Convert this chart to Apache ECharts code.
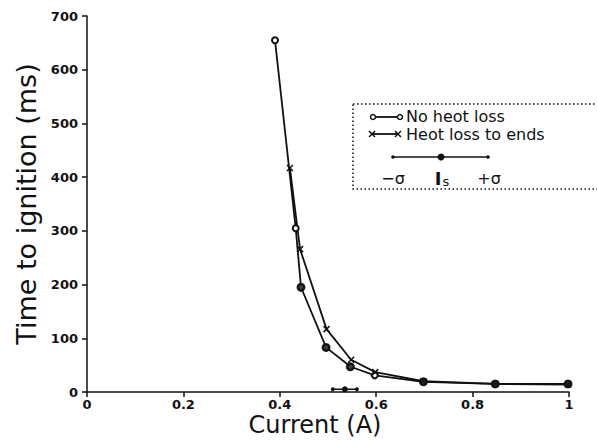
<!DOCTYPE html>
<html>
<head>
<meta charset="utf-8">
<script src="https://cdn.jsdelivr.net/npm/echarts@6/dist/echarts.min.js"></script>
<style>
  html, body { margin: 0; padding: 0; background: #fff; }
  #chart { width: 597px; height: 441px; }
</style>
</head>
<body>
<div id="chart"></div>
<script>
// --- data ---
var noLossX = [0.39, 0.433, 0.444, 0.496, 0.547, 0.597, 0.698, 0.847, 0.998];
var noLossY = [655, 305, 195, 83, 47, 31, 19, 15, 15];

var endLossX = [0.421, 0.442, 0.497, 0.548, 0.598, 0.698, 0.847, 0.998];
var endLossY = [417, 266, 117, 60, 37, 20, 15, 14];

// measured ignition currents (filled dots)
var isX = [0.444, 0.496, 0.546, 0.698, 0.847, 0.998];
var isY = [195, 83, 47, 19, 15, 15];

// -sigma / Is / +sigma bar near the axis
var sigmaX = [0.51, 0.535, 0.56];
var sigmaY = [5, 5, 5];

function pairs(xs, ys) {
  return xs.map(function(x, i) { return [x, ys[i]]; });
}

var ink = '#111';
var font = 'DejaVu Sans';
var crossPath = 'path://M0,0L10,10M10,0L0,10';

function cross(cx, cy) {
  return [
    { type: 'line', shape: { x1: cx - 3, y1: cy - 3, x2: cx + 3, y2: cy + 3 }, style: { stroke: ink, lineWidth: 1.5 }, z: 12 },
    { type: 'line', shape: { x1: cx + 3, y1: cy - 3, x2: cx - 3, y2: cy + 3 }, style: { stroke: ink, lineWidth: 1.5 }, z: 12 }
  ];
}

function label(x, y, text, align) {
  return {
    type: 'text', x: x, y: y,
    style: { text: text, fill: ink, fontSize: 16, lineHeight: 14, fontFamily: font, align: align || 'left', verticalAlign: 'middle' },
    z: 12
  };
}

var legendGraphics = [
  {
    type: 'rect',
    shape: { x: 353, y: 104, width: 250, height: 85 },
    style: { fill: '#fff', stroke: ink, lineWidth: 1.5, lineDash: [1.5, 2.5] },
    z: 10
  },
  // row 1: no heat loss
  { type: 'line', shape: { x1: 373, y1: 117, x2: 400, y2: 117 }, style: { stroke: ink, lineWidth: 1.8 }, z: 11 },
  { type: 'circle', shape: { cx: 373, cy: 117, r: 2.5 }, style: { fill: '#fff', stroke: ink, lineWidth: 1.5 }, z: 12 },
  { type: 'circle', shape: { cx: 400, cy: 117, r: 2.5 }, style: { fill: '#fff', stroke: ink, lineWidth: 1.5 }, z: 12 },
  label(406, 116, 'No heot loss'),
  // row 2: heat loss to ends
  { type: 'line', shape: { x1: 372, y1: 134, x2: 398, y2: 134 }, style: { stroke: ink, lineWidth: 1.8 }, z: 11 },
  label(406, 134, 'Heot loss to ends'),
  // row 3: sigma bar
  { type: 'line', shape: { x1: 393, y1: 157, x2: 488, y2: 157 }, style: { stroke: ink, lineWidth: 1.5 }, z: 11 },
  { type: 'circle', shape: { cx: 393, cy: 157, r: 1.8 }, style: { fill: ink }, z: 12 },
  { type: 'circle', shape: { cx: 488, cy: 157, r: 1.8 }, style: { fill: ink }, z: 12 },
  { type: 'circle', shape: { cx: 441, cy: 157, r: 3.5 }, style: { fill: ink }, z: 12 },
  // row 4: labels
  label(393, 178, '−σ', 'center'),
  {
    type: 'text', x: 442, y: 178,
    style: {
      text: '{a|I}{b|s}', fill: ink, align: 'center', verticalAlign: 'middle',
      rich: {
        a: { fontSize: 18, fontFamily: font, fontWeight: 'bold', fill: ink },
        b: { fontSize: 13, fontFamily: font, fill: ink, padding: [6, 0, 0, 1] }
      }
    },
    z: 12
  },
  label(489, 178, '+σ', 'center')
].concat(cross(372, 134), cross(398, 134));

var chart = echarts.init(document.getElementById('chart'), null, { renderer: 'svg' });
chart.setOption({
  animation: false,
  backgroundColor: '#fff',
  grid: { left: 87, right: 28, top: 16, bottom: 49, containLabel: false, outerBoundsMode: 'none' },
  xAxis: {
    type: 'value',
    min: 0, max: 1, interval: 0.2,
    name: 'Current (A)',
    nameLocation: 'middle',
    nameMoveOverlap: false,
    nameGap: 21,
    nameTextStyle: { color: ink, fontSize: 24, lineHeight: 24, fontFamily: font, padding: [0, 26, 0, 0] },
    axisLine: { lineStyle: { color: ink, width: 1.5 } },
    axisTick: { length: 5, lineStyle: { color: ink, width: 1.5 } },
    axisLabel: {
      color: ink, fontSize: 13, fontWeight: 'bold', fontFamily: font, margin: 6,
      formatter: function(v) { return String(+(+v).toFixed(1)); }
    },
    splitLine: { show: false }
  },
  yAxis: {
    type: 'value',
    min: 0, max: 700, interval: 100,
    name: 'Time to ignition (ms)',
    nameLocation: 'middle',
    nameGap: 46,
    nameTextStyle: { color: ink, fontSize: 27, lineHeight: 27, fontFamily: font },
    axisLine: { lineStyle: { color: ink, width: 1.5 } },
    axisTick: { length: 5, lineStyle: { color: ink, width: 1.5 } },
    axisLabel: { color: ink, fontSize: 13, fontWeight: 'bold', fontFamily: font, margin: 9 },
    splitLine: { show: false }
  },
  series: [
    {
      name: 'No heat loss',
      type: 'line',
      data: pairs(noLossX, noLossY),
      symbol: 'emptyCircle',
      symbolSize: 6,
      lineStyle: { color: ink, width: 1.8 },
      itemStyle: { color: ink, borderColor: ink, borderWidth: 1.5 }
    },
    {
      name: 'Heat loss to ends',
      type: 'line',
      data: pairs(endLossX, endLossY),
      symbol: crossPath,
      symbolSize: 6,
      lineStyle: { color: ink, width: 1.8 },
      itemStyle: { color: 'none', borderColor: ink, borderWidth: 1.5 }
    },
    {
      name: 'Is',
      type: 'scatter',
      z: 5,
      data: pairs(isX, isY),
      symbol: 'circle',
      symbolSize: 9,
      itemStyle: { color: ink }
    },
    {
      name: 'sigma',
      type: 'line',
      data: pairs(sigmaX, sigmaY),
      symbol: 'circle',
      symbolSize: function(v, p) { return p.dataIndex === 1 ? 6 : 4; },
      lineStyle: { color: ink, width: 1.5 },
      itemStyle: { color: ink }
    }
  ],
  graphic: legendGraphics
});
</script>
</body>
</html>
